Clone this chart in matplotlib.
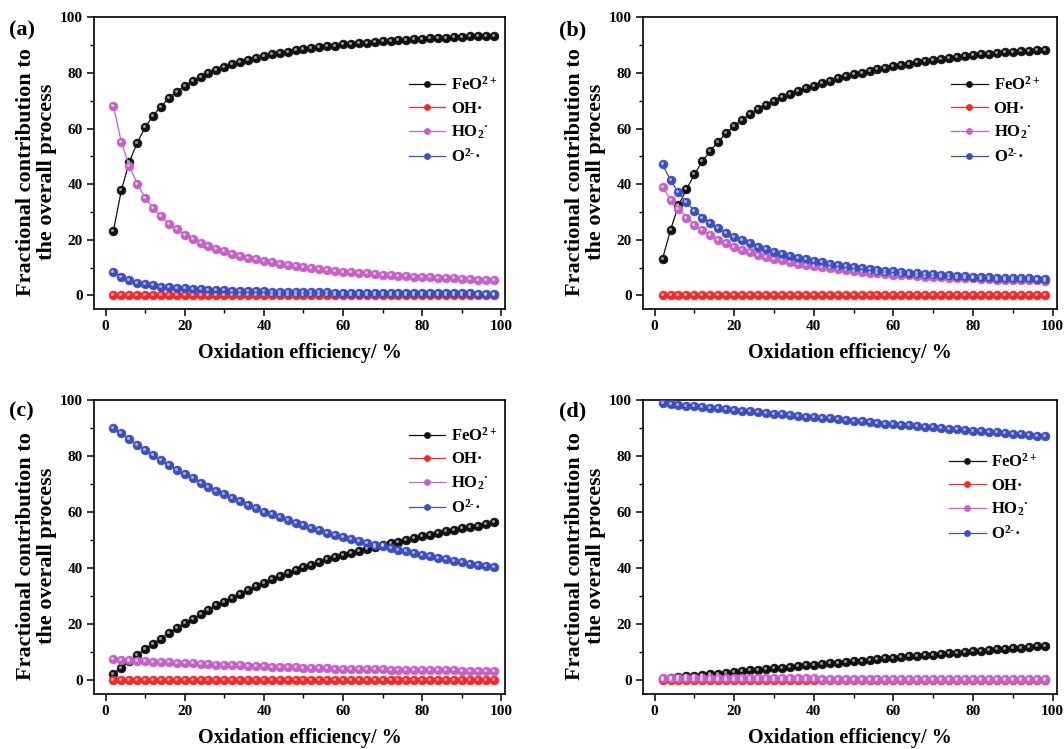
"""
Fractional contribution of each oxidant (FeO2+, OH., HO2., O2-.) to the
overall process vs. oxidation efficiency, four conditions (a)-(d).
"""

import numpy as np
import matplotlib
matplotlib.use("Agg")
import matplotlib.pyplot as plt
import matplotlib.transforms as mtransforms
from matplotlib.ticker import MultipleLocator

plt.rcParams.update({
    "font.family": ["Liberation Serif", "DejaVu Serif"],
    "font.weight": "bold",
    "axes.labelweight": "bold",
    "mathtext.default": "regular",
    "axes.linewidth": 1.2,
    "xtick.direction": "out",
    "ytick.direction": "out",
    "xtick.major.size": 5,
    "ytick.major.size": 5,
    "xtick.minor.size": 3,
    "ytick.minor.size": 3,
    "xtick.major.width": 1.1,
    "ytick.major.width": 1.1,
    "xtick.minor.width": 1.0,
    "ytick.minor.width": 1.0,
})

# ---------------------------------------------------------------------------
# Data: oxidation efficiency (%) and fractional contributions (%)
# ---------------------------------------------------------------------------

X = [2, 4, 6, 8, 10, 12, 14, 16, 18, 20, 22, 24, 26, 28, 30, 32, 34, 36, 38,
     40, 42, 44, 46, 48, 50, 52, 54, 56, 58, 60, 62, 64, 66, 68, 70, 72, 74,
     76, 78, 80, 82, 84, 86, 88, 90, 92, 94, 96, 98]

OH = [0.0, 0.0, 0.0, 0.0, 0.0, 0.0, 0.0, 0.0, 0.0, 0.0, 0.0, 0.0, 0.0,
      0.0, 0.0, 0.0, 0.0, 0.0, 0.0, 0.0, 0.0, 0.0, 0.0, 0.0, 0.0, 0.0,
      0.0, 0.0, 0.0, 0.0, 0.0, 0.0, 0.0, 0.0, 0.0, 0.0, 0.0, 0.0, 0.0,
      0.0, 0.0, 0.0, 0.0, 0.0, 0.0, 0.0, 0.0, 0.0, 0.0]

# (a)
FEO_A = [23.2, 37.8, 47.9, 54.9, 60.4, 64.6, 67.9, 70.9, 73.3, 75.2, 77.1,
         78.5, 80.0, 81.2, 82.1, 83.1, 83.9, 84.6, 85.3, 86.1, 86.7, 87.1,
         87.6, 88.1, 88.4, 88.9, 89.3, 89.6, 89.8, 90.2, 90.5, 90.7, 90.9,
         91.2, 91.4, 91.6, 91.8, 91.9, 92.1, 92.3, 92.4, 92.5, 92.6, 92.8,
         93.0, 93.1, 93.2, 93.3, 93.4]
HO2_A = [68.2, 55.1, 46.6, 40.1, 35.2, 31.4, 28.4, 25.8, 23.7, 21.9, 20.3,
         19.0, 17.8, 16.7, 15.8, 15.0, 14.2, 13.6, 13.0, 12.4, 11.9, 11.4,
         11.0, 10.6, 10.2, 9.8, 9.5, 9.2, 8.9, 8.6, 8.4, 8.1, 7.9, 7.7, 7.5,
         7.3, 7.1, 6.9, 6.8, 6.6, 6.5, 6.3, 6.2, 6.1, 5.9, 5.8, 5.7, 5.6, 5.5]
O2_A = [8.3, 6.5, 5.4, 4.6, 4.0, 3.6, 3.2, 2.9, 2.7, 2.5, 2.3, 2.2, 2.0, 1.9,
        1.8, 1.7, 1.65, 1.6, 1.5, 1.45, 1.4, 1.35, 1.3, 1.25, 1.2, 1.15, 1.1,
        1.1, 1.05, 1.0, 1.0, 0.95, 0.95, 0.9, 0.9, 0.85, 0.85, 0.8, 0.8, 0.8,
        0.75, 0.75, 0.75, 0.7, 0.7, 0.7, 0.65, 0.65, 0.65]

# (b)
FEO_B = [13.2, 23.5, 32.4, 38.1, 43.5, 48.2, 52.0, 55.3, 58.3, 60.9, 63.2,
         65.1, 66.9, 68.4, 69.8, 71.2, 72.3, 73.5, 74.5, 75.4, 76.4, 77.2,
         78.1, 78.8, 79.5, 80.1, 80.7, 81.3, 81.9, 82.4, 82.8, 83.3, 83.8,
         84.3, 84.6, 85.0, 85.3, 85.7, 86.1, 86.4, 86.7, 86.9, 87.1, 87.4,
         87.6, 87.8, 88.0, 88.1, 88.3]
HO2_B = [39.0, 34.4, 31.1, 28.0, 25.4, 23.4, 21.6, 20.0, 18.8, 17.5, 16.4,
         15.5, 14.7, 13.8, 13.2, 12.6, 12.0, 11.4, 11.0, 10.6, 10.1, 9.8,
         9.4, 9.1, 8.8, 8.5, 8.2, 8.0, 7.7, 7.5, 7.4, 7.2, 6.9, 6.8, 6.7, 6.6,
         6.4, 6.3, 6.2, 6.1, 6.0, 5.8, 5.7, 5.6, 5.6, 5.5, 5.4, 5.4, 5.2]
O2_B = [47.1, 41.4, 37.0, 33.5, 30.5, 28.0, 26.0, 24.2, 22.5, 21.1, 19.9,
        18.7, 17.5, 16.6, 15.7, 15.0, 14.3, 13.6, 13.0, 12.5, 11.9, 11.4,
        11.1, 10.6, 10.3, 9.9, 9.5, 9.3, 8.9, 8.7, 8.5, 8.2, 8.0, 7.7, 7.6,
        7.4, 7.3, 7.0, 6.9, 6.8, 6.7, 6.6, 6.4, 6.3, 6.2, 6.1, 6.1, 6.0, 6.0]

# (c)
FEO_C = [2.4, 4.5, 6.8, 9.0, 11.0, 13.0, 14.9, 16.8, 18.6, 20.4, 22.0, 23.6,
         25.1, 26.7, 28.1, 29.5, 30.9, 32.2, 33.5, 34.8, 36.0, 37.2, 38.3,
         39.4, 40.4, 41.3, 42.2, 43.1, 43.9, 44.7, 45.5, 46.2, 46.9, 47.6,
         48.2, 48.9, 49.5, 50.2, 50.8, 51.4, 52.0, 52.6, 53.2, 53.7, 54.2,
         54.7, 55.2, 55.8, 56.4]
HO2_C = [7.6, 7.4, 7.2, 7.0, 6.9, 6.7, 6.6, 6.4, 6.3, 6.1, 6.0, 5.9, 5.8,
         5.6, 5.5, 5.4, 5.3, 5.2, 5.1, 5.0, 4.9, 4.8, 4.7, 4.6, 4.5, 4.5, 4.4,
         4.3, 4.2, 4.2, 4.1, 4.0, 4.0, 3.9, 3.9, 3.8, 3.8, 3.7, 3.7, 3.6, 3.6,
         3.5, 3.5, 3.5, 3.4, 3.4, 3.4, 3.3, 3.3]
O2_C = [90.0, 88.1, 86.0, 84.0, 82.1, 80.3, 78.5, 76.8, 75.1, 73.5, 72.0,
        70.5, 69.1, 67.7, 66.4, 65.1, 63.8, 62.6, 61.4, 60.2, 59.2, 58.2,
        57.2, 56.2, 55.3, 54.4, 53.5, 52.6, 51.8, 51.0, 50.3, 49.6, 49.0,
        48.4, 47.8, 47.2, 46.6, 46.0, 45.4, 44.8, 44.2, 43.7, 43.1, 42.6,
        42.1, 41.6, 41.1, 40.7, 40.3]

# (d)
FEO_D = [0.6, 0.9, 1.1, 1.4, 1.6, 1.9, 2.2, 2.4, 2.7, 3.0, 3.2, 3.5, 3.8,
         4.0, 4.3, 4.5, 4.8, 5.0, 5.3, 5.5, 5.8, 6.0, 6.3, 6.5, 6.8, 7.0, 7.3,
         7.5, 7.8, 8.0, 8.2, 8.5, 8.7, 9.0, 9.2, 9.4, 9.7, 9.9, 10.1, 10.4,
         10.6, 10.8, 11.0, 11.3, 11.5, 11.7, 11.9, 12.1, 12.4]
HO2_D = [0.7, 0.7, 0.7, 0.7, 0.7, 0.7, 0.7, 0.7, 0.7, 0.7, 0.7, 0.7, 0.7,
         0.7, 0.7, 0.7, 0.7, 0.7, 0.7, 0.7, 0.6, 0.6, 0.6, 0.6, 0.6, 0.6, 0.6,
         0.6, 0.6, 0.6, 0.6, 0.6, 0.6, 0.6, 0.6, 0.6, 0.6, 0.6, 0.6, 0.6, 0.6,
         0.6, 0.6, 0.6, 0.6, 0.6, 0.6, 0.6, 0.6]
O2_D = [98.8, 98.5, 98.3, 98.0, 97.8, 97.5, 97.2, 97.0, 96.7, 96.4, 96.2,
        95.9, 95.6, 95.4, 95.1, 94.9, 94.6, 94.4, 94.1, 93.9, 93.6, 93.4,
        93.1, 92.9, 92.6, 92.4, 92.1, 91.9, 91.6, 91.4, 91.2, 90.9, 90.7,
        90.4, 90.2, 90.0, 89.7, 89.5, 89.3, 89.0, 88.8, 88.6, 88.4, 88.1,
        87.9, 87.7, 87.5, 87.3, 87.0]

SPECIES = ["FeO$^{2+}$", "OH·", "HO$_2$$^{·}$", "O$^{2\u2010}$·"]
COLORS = ["#111111", "#f42a2a", "#c560c5", "#3d4fbf"]

PANELS = [
    ("(a)", [FEO_A, OH, HO2_A, O2_A]),
    ("(b)", [FEO_B, OH, HO2_B, O2_B]),
    ("(c)", [FEO_C, OH, HO2_C, O2_C]),
    ("(d)", [FEO_D, OH, HO2_D, O2_D]),
]

# axes rectangles in figure fraction, and legend anchor in axes fraction
AX_RECTS = [
    [0.088, 0.587, 0.387, 0.390],
    [0.604, 0.587, 0.389, 0.390],
    [0.088, 0.073, 0.387, 0.393],
    [0.604, 0.073, 0.389, 0.393],
]
LEG_ANCHORS = [(0.765, 0.80), (0.745, 0.80), (0.765, 0.91), (0.740, 0.82)]
TAG_POS = [(0.008, 0.972), (0.525, 0.972), (0.008, 0.464), (0.525, 0.464)]


def ball_plot(ax, fig, x, y, color, label):
    """Line with shaded 'ball' markers (solid disc plus a small highlight)."""
    ax.plot(x, y, "-", color=color, linewidth=0.9, marker="o", markersize=6.4,
            markerfacecolor=color, markeredgecolor=color, markeredgewidth=0.4,
            label=label, zorder=3)
    hl = mtransforms.offset_copy(ax.transData, fig=fig, x=-1.0, y=1.0, units="dots")
    ax.plot(x, y, "o", markersize=2.2, color="white", alpha=0.55,
            markeredgewidth=0, transform=hl, zorder=4)


fig = plt.figure(figsize=(10.64, 7.49), dpi=100)

for i, (tag, series) in enumerate(PANELS):
    ax = fig.add_axes(AX_RECTS[i])
    for vals, color, name in zip(series, COLORS, SPECIES):
        ball_plot(ax, fig, X, vals, color, name)

    ax.set_xlim(-3, 101)
    ax.set_ylim(-5, 100)
    ax.xaxis.set_major_locator(MultipleLocator(20))
    ax.xaxis.set_minor_locator(MultipleLocator(10))
    ax.yaxis.set_major_locator(MultipleLocator(20))
    ax.yaxis.set_minor_locator(MultipleLocator(10))
    ax.tick_params(axis="both", which="major", labelsize=11, pad=3)
    for lbl in ax.get_xticklabels() + ax.get_yticklabels():
        lbl.set_fontweight("bold")

    ax.set_xlabel("Oxidation efficiency/ %", fontsize=14.5, labelpad=7)
    ax.set_ylabel("Fractional contribution to\nthe overall process", fontsize=16,
                  linespacing=1.1)
    ax.yaxis.set_label_coords(-0.088, 0.47)

    leg = ax.legend(loc="upper left", bbox_to_anchor=LEG_ANCHORS[i],
                    frameon=False, fontsize=12, handlelength=2.2,
                    handletextpad=0.35, labelspacing=0.42, borderpad=0,
                    borderaxespad=0, markerscale=0.7)
    for t in leg.get_texts():
        t.set_fontweight("bold")

    fig.text(TAG_POS[i][0], TAG_POS[i][1], tag, fontsize=16, fontweight="bold",
             ha="left", va="top")

fig.savefig("out.png", dpi=100, facecolor="white")
